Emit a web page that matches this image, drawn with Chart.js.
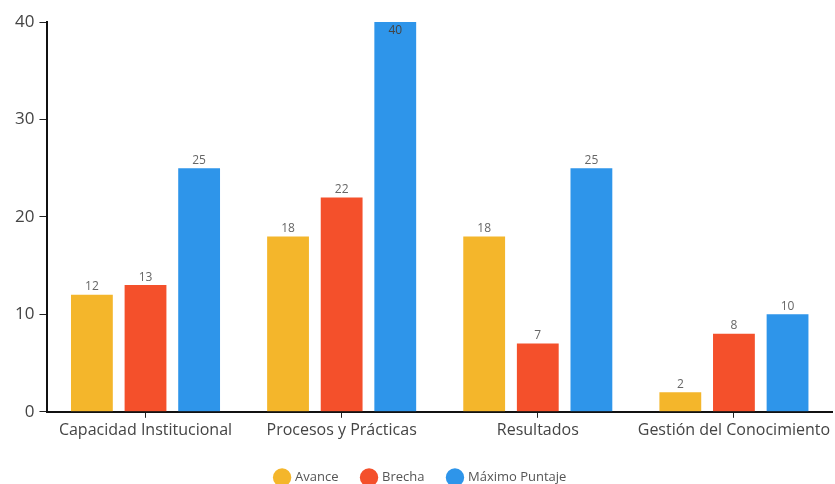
<!DOCTYPE html>
<html>
<head>
<meta charset="utf-8">
<script src="https://cdn.jsdelivr.net/npm/chart.js@4.4.0/dist/chart.umd.min.js"></script>
<style>
  html, body { margin: 0; padding: 0; background: #fff; }
  #wrap { width: 835px; height: 484px; }
</style>
</head>
<body>
<div id="wrap"><canvas id="chart"></canvas></div>
<script>
// Datos
const categorias = ['Capacidad Institucional', 'Procesos y Prácticas', 'Resultados', 'Gestión del Conocimiento'];
const avance = [12, 18, 18, 2];
const brecha = [13, 22, 7, 8];
const maximoPuntaje = [25, 40, 25, 10];
const yTicks = [0, 10, 20, 30, 40];

const FONT = '"Open Sans", "Noto Sans", sans-serif';

// etiquetas encima de cada barra
const valueLabels = {
    id: 'valueLabels',
    afterDatasetsDraw(chart) {
        const ctx = chart.ctx;
        ctx.save();
        ctx.font = '12px ' + FONT;
        ctx.textAlign = 'center';
        chart.data.datasets.forEach((ds, i) => {
            chart.getDatasetMeta(i).data.forEach((bar, j) => {
                const v = ds.data[j];
                // el 40 queda dentro de la barra en el original
                if (v >= 40) {
                    ctx.fillStyle = '#444';
                    ctx.textBaseline = 'top';
                    ctx.fillText(v, bar.x, bar.y + 3);
                } else {
                    ctx.fillStyle = '#666';
                    ctx.textBaseline = 'bottom';
                    ctx.fillText(v, bar.x, bar.y - 2);
                }
            });
        });
        ctx.restore();
    }
};

const chart = new Chart(document.getElementById('chart'), {
    type: 'bar',
    data: {
        labels: categorias,
        datasets: [{
            label: 'Avance',
            data: avance,
            backgroundColor: '#F4B62B'
        }, {
            label: 'Brecha',
            data: brecha,
            backgroundColor: '#F4502B'
        }, {
            label: 'Máximo Puntaje',
            data: maximoPuntaje,
            backgroundColor: '#2E95EA'
        }]
    },
    options: {
        responsive: true,
        maintainAspectRatio: false,
        animation: false,
        datasets: {
            bar: { categoryPercentage: 0.82, barPercentage: 0.78 }
        },
        layout: { padding: { top: 22, right: 3, left: 10, bottom: -10 } },
        scales: {
            x: {
                grid: { display: true, offset: false, drawOnChartArea: false, drawTicks: true, tickLength: 6, color: '#222' },
                border: { color: '#111', width: 2 },
                ticks: { color: '#444', font: { family: FONT, size: 16 }, padding: 3, maxRotation: 0, minRotation: 0, autoSkip: false },
                afterFit(axis) { axis.height += 4; }
            },
            y: {
                min: 0,
                max: 40,
                afterBuildTicks(axis) { axis.ticks = yTicks.map(v => ({ value: v })); },
                grid: { display: true, drawOnChartArea: false, drawTicks: true, tickLength: 8, color: '#222' },
                border: { color: '#111', width: 2 },
                ticks: { color: '#444', font: { family: FONT, size: 17 }, padding: 5 }
            }
        },
        plugins: {
            legend: {
                position: 'bottom',
                labels: {
                    usePointStyle: true,
                    pointStyle: 'circle',
                    boxWidth: 13,
                    boxHeight: 13,
                    padding: 24,
                    color: '#555',
                    font: { family: FONT, size: 13 }
                }
            },
            tooltip: { enabled: false }
        }
    },
    plugins: [valueLabels]
});
</script>
</body>
</html>
